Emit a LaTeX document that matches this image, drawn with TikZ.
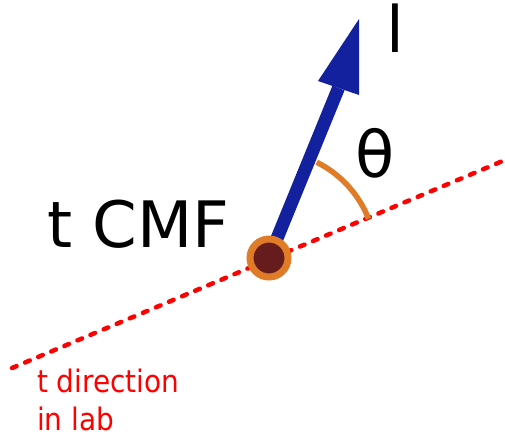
\documentclass[tikz,border=0pt]{standalone}
\usepackage{fontspec}
\setmainfont{DejaVu Sans}
\newfontfamily\condfont{DejaVu Sans Condensed}
\definecolor{arrowblue}{HTML}{13219E}
\definecolor{arcorange}{HTML}{E07B28}
\definecolor{dotred}{HTML}{661C1C}
\definecolor{linered}{HTML}{FF0000}
\begin{document}
\begin{tikzpicture}[x=1pt,y=-1pt,
  bigtext/.style={font=\fontsize{64}{70}\selectfont, inner sep=0pt, anchor=base west},
  redtext/.style={font=\condfont\fontsize{31}{38}\selectfont, text=linered, inner sep=0pt, anchor=base west, align=left},
  labline/.style={draw=linered, line width=4.5pt, line cap=round, dash pattern=on 5pt off 9.2pt},
  vec/.style={draw=arrowblue, line width=13pt},
  vechead/.style={fill=arrowblue},
  anglearc/.style={draw=arcorange, line width=5.5pt},
  dot/.style={circle, fill=dotred, draw=arcorange, line width=7pt, minimum size=38pt, inner sep=0pt}
]
\useasboundingbox (0,0) rectangle (505,439);
\coordinate (L1) at (12,368);
\coordinate (L2) at (505,160);
\coordinate (O) at (269,258);
\coordinate (S) at (338.5,88);
\coordinate (H1) at (359,19);
\coordinate (H2) at (318,81);
\coordinate (H3) at (359,95);
\draw[labline] (L1) -- (L2);
\draw[anglearc] (O) ++(-63.5:107) arc[start angle=-63.5, end angle=-21.5, radius=107];
\draw[vec] (O) -- (S);
\path[vechead] (H1) -- (H2) -- (H3) -- cycle;
\node[dot] (dot) at (O) {};
\node[bigtext] (lbl) at (386,52) {l};
\node[bigtext] (theta) at (355,177) {θ};
\node[bigtext] (tcmf) at (47,247) {t CMF};
\node[redtext] (lab) at (37,430) {t direction\\in lab};
\end{tikzpicture}
\end{document}
